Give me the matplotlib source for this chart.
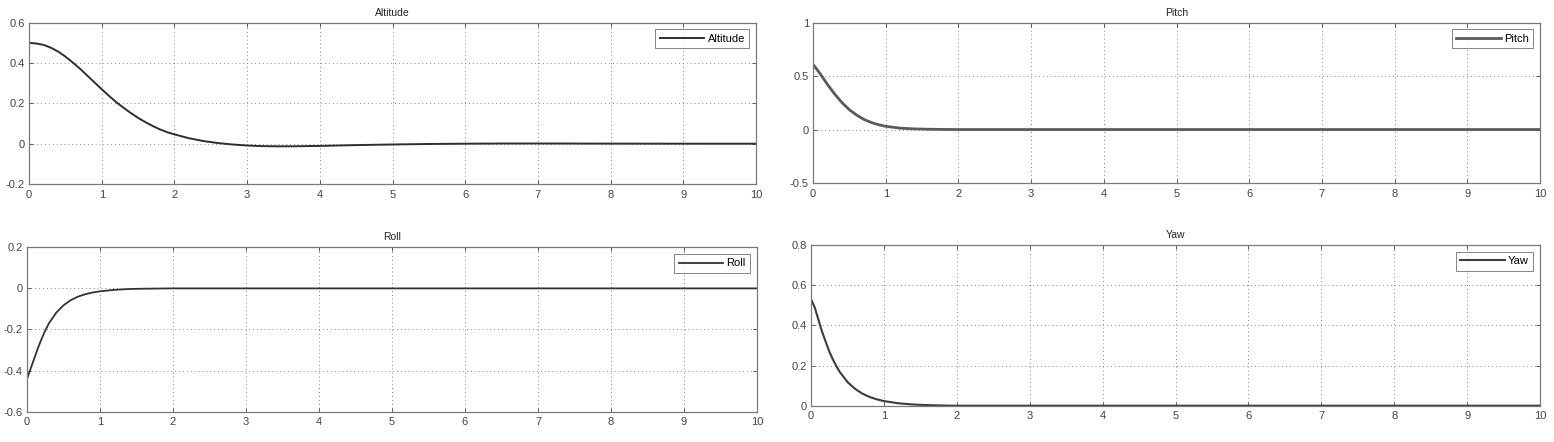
import matplotlib
matplotlib.use("Agg")
import matplotlib.pyplot as plt

plt.rcParams['font.family'] = ['Liberation Sans', 'DejaVu Sans']

# ---- data ----
alt_t = [0, 0.1, 0.2, 0.3, 0.4, 0.5, 0.6, 0.7, 0.8, 0.9, 1.0, 1.1, 1.2, 1.3, 1.4, 1.5,
         1.6, 1.7, 1.8, 1.9, 2.0, 2.2, 2.4, 2.6, 2.8, 3.0, 3.2, 3.4, 3.6, 3.8, 4.0,
         4.5, 5.0, 5.5, 6.0, 6.5, 7.0, 8.0, 9.0, 10.0]
alt_y = [0.50, 0.497, 0.49, 0.476, 0.457, 0.432, 0.403, 0.372, 0.338, 0.304, 0.27,
         0.237, 0.206, 0.178, 0.152, 0.128, 0.107, 0.088, 0.071, 0.057, 0.046,
         0.027, 0.013, 0.003, -0.004, -0.009, -0.012, -0.013, -0.013, -0.012,
         -0.011, -0.007, -0.004, -0.0015, 0.0, 0.0008, 0.001, 0.0003, 0.0, 0.0]

pitch_t = [0, 0.05, 0.1, 0.15, 0.2, 0.3, 0.4, 0.5, 0.6, 0.7, 0.8, 0.9, 1.0, 1.2, 1.4,
           1.6, 1.8, 2.0, 3.0, 5.0, 10.0]
pitch_y = [0.61, 0.565, 0.52, 0.47, 0.42, 0.33, 0.25, 0.185, 0.135, 0.095, 0.066,
           0.045, 0.03, 0.013, 0.006, 0.003, 0.001, 0.0, 0.0, 0.0, 0.0]

roll_t = [0, 0.05, 0.1, 0.15, 0.2, 0.25, 0.3, 0.4, 0.5, 0.6, 0.7, 0.8, 0.9, 1.0,
          1.2, 1.4, 1.6, 1.8, 2.0, 3.0, 5.0, 10.0]
roll_y = [-0.44, -0.39, -0.34, -0.29, -0.245, -0.205, -0.17, -0.118, -0.082,
          -0.057, -0.040, -0.028, -0.020, -0.014, -0.007, -0.003, -0.0015,
          -0.0007, 0.0, 0.0, 0.0, 0.0]

yaw_t = [0, 0.05, 0.1, 0.15, 0.2, 0.25, 0.3, 0.35, 0.4, 0.5, 0.6, 0.7, 0.8, 0.9,
         1.0, 1.2, 1.4, 1.6, 1.8, 2.0, 3.0, 5.0, 10.0]
yaw_y = [0.53, 0.49, 0.43, 0.37, 0.32, 0.27, 0.23, 0.195, 0.165, 0.118, 0.085,
         0.061, 0.044, 0.032, 0.023, 0.012, 0.006, 0.003, 0.001, 0.0, 0.0, 0.0, 0.0]

xticks = list(range(0, 11))
panels = [
    dict(name="Altitude", t=alt_t, y=alt_y, ylim=(-0.2, 0.6),
         yticks=[-0.2, 0, 0.2, 0.4, 0.6], ylabels=["-0.2", "0", "0.2", "0.4", "0.6"],
         pos=[0.0187, 0.5837, 0.4678, 0.3649], color="#2e2e2e", lw=1.4),
    dict(name="Pitch", t=pitch_t, y=pitch_y, ylim=(-0.5, 1.0),
         yticks=[-0.5, 0, 0.5, 1], ylabels=["-0.5", "0", "0.5", "1"],
         pos=[0.5232, 0.5860, 0.4678, 0.3627], color="#5a5a5a", lw=2.0),
    dict(name="Roll", t=roll_t, y=roll_y, ylim=(-0.6, 0.2),
         yticks=[-0.6, -0.4, -0.2, 0, 0.2], ylabels=["-0.6", "-0.4", "-0.2", "0", "0.2"],
         pos=[0.0174, 0.0686, 0.4697, 0.3719], color="#333333", lw=1.3),
    dict(name="Yaw", t=yaw_t, y=yaw_y, ylim=(0, 0.8),
         yticks=[0, 0.2, 0.4, 0.6, 0.8], ylabels=["0", "0.2", "0.4", "0.6", "0.8"],
         pos=[0.5219, 0.0821, 0.4691, 0.3636], color="#3c3c3c", lw=1.5),
]

fig = plt.figure(figsize=(15.54, 4.42), dpi=100)
for p in panels:
    ax = fig.add_axes(p["pos"])
    ax.plot(p["t"], p["y"], color=p["color"], lw=p["lw"], label=p["name"])
    ax.set_xlim(0, 10)
    ax.set_ylim(*p["ylim"])
    ax.set_xticks(xticks)
    ax.set_xticklabels([str(v) for v in xticks])
    ax.set_yticks(p["yticks"])
    ax.set_yticklabels(p["ylabels"])
    ax.tick_params(direction="in", length=3, width=0.6, colors="#444444",
                   labelsize=8, top=True, right=True)
    ax.tick_params(axis="x", pad=4)
    ax.tick_params(axis="y", pad=3)
    for s in ax.spines.values():
        s.set_color("#7a7a7a")
        s.set_linewidth(0.9)
    ax.grid(True, linestyle=(0, (1, 3)), color="#888888", linewidth=0.7)
    ax.set_title(p["name"], fontsize=7.5, pad=5, color="#222222")
    leg = ax.legend(loc="upper right", fontsize=8, frameon=True, fancybox=False,
                    handlelength=4.0, borderpad=0.4, handletextpad=0.3,
                    borderaxespad=0.6)
    leg.get_frame().set_edgecolor("#666666")
    leg.get_frame().set_linewidth(0.7)

fig.savefig("out.png", dpi=100)
